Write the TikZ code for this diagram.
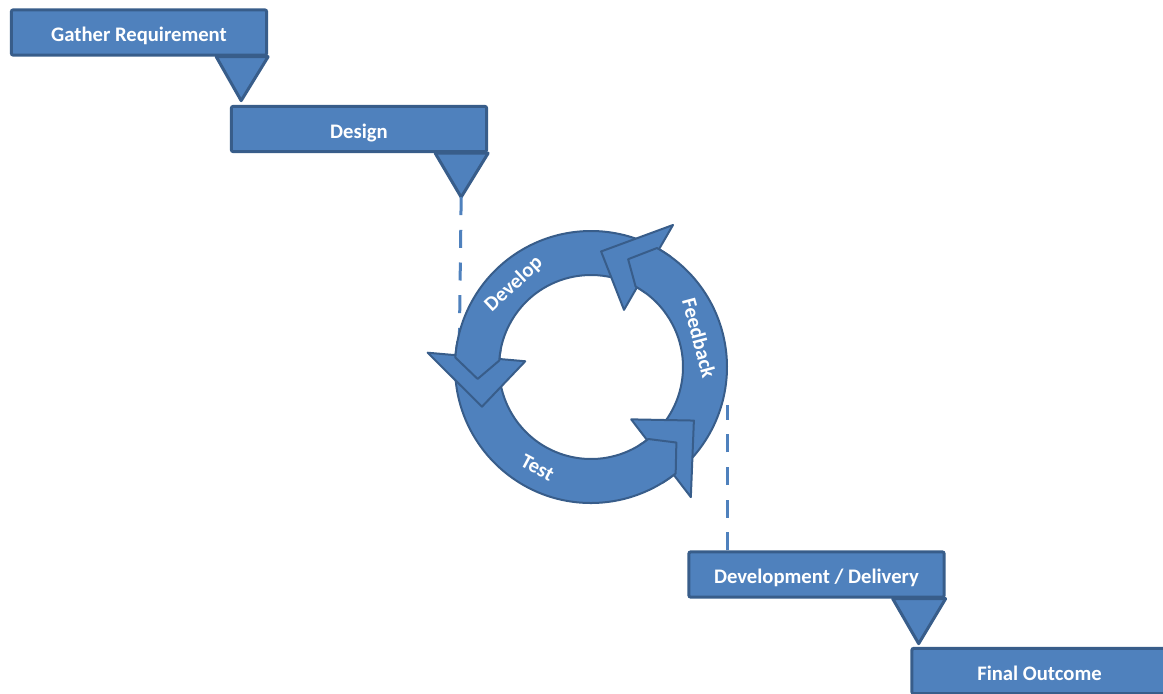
\documentclass[tikz,border=0pt]{standalone}
\usepackage{fontspec}
\setmainfont{Carlito}
\usepackage{tikz}
\usetikzlibrary{calc}
\usetikzlibrary{backgrounds}
\definecolor{officeblue}{HTML}{4F81BD}
\definecolor{officeline}{HTML}{385D8A}
\tikzset{stage/.style={draw=officeline, fill=officeblue, line width=2.25pt, rounded corners=1.5pt,
    minimum width=191.5pt, minimum height=34pt, inner sep=0pt, text=white,
    text height=13.5pt, text depth=0pt, font=\fontsize{15.5}{15.5}\selectfont\bfseries}}
\tikzset{drop/.style={draw=officeline, fill=officeblue, line width=2.25pt, line join=round}}
\tikzset{link/.style={draw=officeblue, line width=2.25pt, dash pattern=on 13.5pt off 11pt}}
\tikzset{loop/.style={draw=officeline, fill=officeblue, line width=1.5pt, line join=round}}
\tikzset{looptext/.style={text=white, inner sep=0pt, font=\fontsize{15.5}{15.5}\selectfont\bfseries}}
% one arc of the cycle: tail angle, barb angle of its head
\newcommand{\loopbody}[2]{%
  \filldraw[loop] (#1:136) arc[start angle=#1, end angle={#2+1}, radius=136]
    -- ({#2+11}:114) -- ({#2+1}:92) arc[start angle={#2+1}, end angle=#1, radius=92] -- cycle;}
\newcommand{\loophead}[1]{%
  \filldraw[loop] (#1:164) -- ({#1+25}:116) -- (#1:66) -- cycle;}
\newcommand{\loopcap}[1]{%
  \fill[officeblue] ({#1-6}:136) arc[start angle={#1-6}, end angle={#1+1}, radius=136]
    -- ({#1+11}:114) -- ({#1+1}:92) arc[start angle={#1+1}, end angle={#1-6}, radius=92] -- cycle;
  \draw[loop, fill=none] ({#1-6}:136) arc[start angle={#1-6}, end angle={#1+1}, radius=136]
    -- ({#1+11}:114) -- ({#1+1}:92) arc[start angle={#1+1}, end angle={#1-6}, radius=92];}

\begin{document}
\begin{tikzpicture}[x=0.75pt, y=-0.75pt]
  \useasboundingbox (0,0) rectangle (1163,693);

  % waterfall stages
  \node[stage] (gather) at (139,32.5) {Gather Requirement};
  \node[stage] (design) at (359,129) {Design};
  \node[stage] (deliver) at (816.5,574.5) {Development / Delivery};
  \node[stage] (final) at (1039.5,671) {Final Outcome};

  \path (gather.south east) ++(-27,44) coordinate (gather tip);
  \path (design.south east) ++(-27,44) coordinate (design tip);
  \path (deliver.south east) ++(-27,45) coordinate (deliver tip);
  \coordinate (loop in) at (459,370);
  \coordinate (loop out) at (727,405);

  \begin{scope}[on background layer]
    \filldraw[drop] (gather.south east) -- ++(-52,0) -- (gather tip) -- cycle;
    \filldraw[drop] (design.south east) -- ++(-53,0) -- (design tip) -- cycle;
    \filldraw[drop] (deliver.south east) -- ++(-53,0) -- (deliver tip) -- cycle;
    % dashed hand-over into and out of the loop
    \draw[link] (design tip) -- (loop in);
    \draw[link] (loop out |- deliver.north) -- (loop out);
  \end{scope}

  % iteration cycle
  \begin{scope}[shift={(591,367)}, y=0.75pt]
    \loopbody{68}{175}
    \loopbody{183}{307.5}
    \loopbody{315.5}{420}
    \loophead{175}
    \loophead{307.5}
    \loophead{60}
    \loopcap{175}
    \loopcap{307.5}
    \loopcap{420}
    \node[looptext, rotate=43] (develop) at (133:113) {Develop};
    \node[looptext, rotate=-28] (test) at (242:114) {Test};
    \node[looptext, rotate=-75] (feedback) at (15:112) {Feedback};
  \end{scope}
\end{tikzpicture}
\end{document}
